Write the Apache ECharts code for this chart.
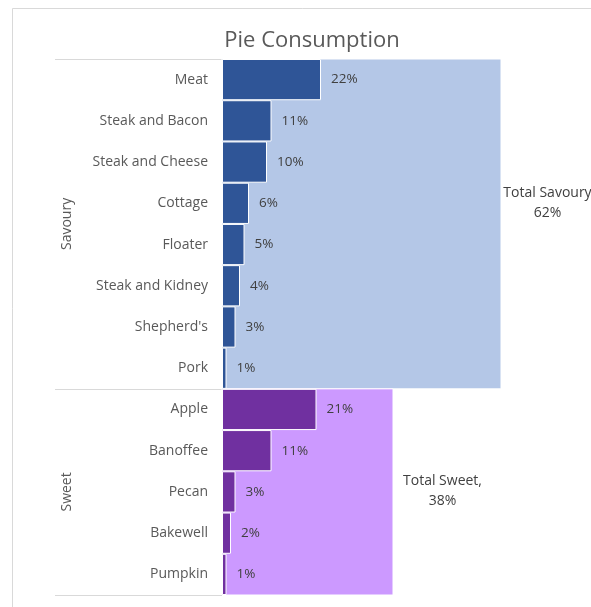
<!DOCTYPE html>
<html>
<head>
<meta charset="utf-8">
<script src="https://cdn.jsdelivr.net/npm/echarts@6/dist/echarts.min.js"></script>
<style>html,body{margin:0;padding:0;background:#fff}#c{width:591px;height:607px}</style>
</head>
<body>
<div id="c"></div>
<script>
// ---- data ----
const savouryNames = ['Meat', 'Steak and Bacon', 'Steak and Cheese', 'Cottage', 'Floater', 'Steak and Kidney', "Shepherd's", 'Pork'];
const savouryValues = [22, 11, 10, 6, 5, 4, 3, 1];
const sweetNames = ['Apple', 'Banoffee', 'Pecan', 'Bakewell', 'Pumpkin'];
const sweetValues = [21, 11, 3, 2, 1];
const groupNames = ['Savoury', 'Sweet'];
const groupTotalLabels = ['Total Savoury\n62%', 'Total Sweet,\n38%'];
const groupTotals = [62, 38];

// ---- build ----
const FONT = '"Open Sans", sans-serif';
const categories = savouryNames.concat(sweetNames);
const darkColors = ['#2F5597', '#7030A0'];
const lightColors = ['#B4C7E7', '#CC99FF'];
const barData = savouryValues.map(v => ({value: v, itemStyle: {color: darkColors[0]}}))
  .concat(sweetValues.map(v => ({value: v, itemStyle: {color: darkColors[1]}})));
const groupSizes = [savouryNames.length, sweetNames.length];
const groupStarts = [0, savouryNames.length];
const totalData = groupNames.map((g, i) => [groupTotals[i], groupStarts[i], groupStarts[i] + groupSizes[i] - 1, i]);
const boundaries = [0, groupSizes[0], groupSizes[0] + groupSizes[1]];
const groupCenters = [groupSizes[0] / 2, groupSizes[0] + groupSizes[1] / 2];
const labelOffsets = [47, 50];

const chart = echarts.init(document.getElementById('c'), null, {renderer: 'canvas'});
chart.setOption({
  animation: false,
  backgroundColor: '#fff',
  title: {
    text: 'Pie Consumption', left: 307, textAlign: 'center', top: 25,
    textStyle: {fontFamily: FONT, fontSize: 22, fontWeight: 'normal', color: '#595959'}
  },
  graphic: [{
    type: 'rect', silent: true, z: -10,
    shape: {x: 12.5, y: 8.5, width: 700, height: 700},
    style: {fill: 'none', stroke: '#D9D9D9', lineWidth: 1}
  }],
  grid: {left: 222, top: 59, right: 9, bottom: 12},
  xAxis: {type: 'value', min: 0, max: 80, show: false},
  yAxis: [{
    type: 'category', data: categories, inverse: true,
    axisLine: {show: false}, axisTick: {show: false}, splitLine: {show: false},
    axisLabel: {fontFamily: FONT, fontSize: 14, color: '#595959', margin: 14}
  }, {
    type: 'value', min: 0, max: boundaries[2], inverse: true, position: 'left', offset: 0,
    axisLine: {show: false}, splitLine: {show: false},
    axisTick: {show: true, customValues: boundaries, length: 167, lineStyle: {color: '#D9D9D9', width: 1}},
    axisLabel: {
      customValues: groupCenters, rotate: 90, margin: 155,
      align: 'center', verticalAlign: 'middle',
      fontFamily: FONT, fontSize: 14, color: '#595959',
      formatter: v => groupNames[groupCenters.indexOf(v)] || ''
    }
  }],
  series: [{
    type: 'custom', yAxisIndex: 0, z: 1,
    data: totalData,
    renderItem: (params, api) => {
      const total = api.value(0), s = api.value(1), e = api.value(2), gi = api.value(3);
      const band = api.size([0, 1])[1];
      const p0 = api.coord([0, s]);
      const p1 = api.coord([total, e]);
      const y0 = p0[1] - band / 2, y1 = p1[1] + band / 2;
      const labelRow = Math.floor((e - s) / 2);
      return {
        type: 'rect',
        shape: {x: p0[0], y: y0, width: p1[0] - p0[0], height: y1 - y0},
        style: {fill: lightColors[gi], stroke: '#ffffff', lineWidth: 1},
        textContent: {
          style: {text: groupTotalLabels[gi], fill: '#404040', font: '14px ' + FONT,
                  align: 'center', verticalAlign: 'middle', lineHeight: 20}
        },
        textConfig: {position: [p1[0] - p0[0] + labelOffsets[gi], band * (labelRow + 0.5)], inside: false}
      };
    }
  }, {
    type: 'bar', yAxisIndex: 0, z: 2,
    data: barData, barCategoryGap: 0, barWidth: '100%',
    itemStyle: {borderColor: '#ffffff', borderWidth: 1},
    label: {show: true, position: 'right', distance: 10, formatter: p => p.value + '%',
            fontFamily: FONT, fontSize: 13.5, color: '#404040'}
  }]
});
</script>
</body>
</html>
